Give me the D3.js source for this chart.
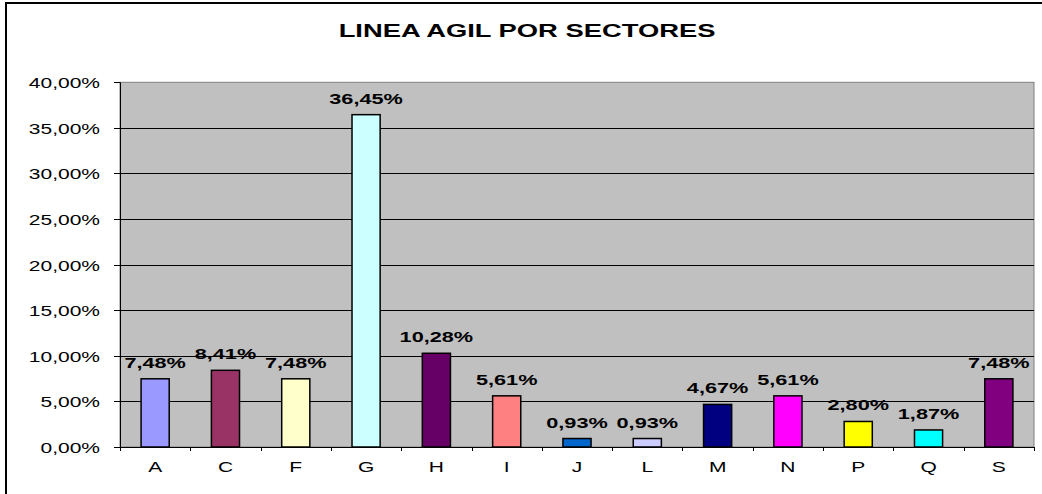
<!DOCTYPE html>
<html>
<head>
<meta charset="utf-8">
<script src="https://cdn.jsdelivr.net/npm/d3@7"></script>
<style>
  body { margin: 0; background: #fff; }
  text { font-family: "Liberation Sans", Arial, sans-serif; fill: #000; }
</style>
</head>
<body>
<div id="chart"></div>
<script>
// data
var sectors = ["A", "C", "F", "G", "H", "I", "J", "L", "M", "N", "P", "Q", "S"];
var shares = [7.48, 8.41, 7.48, 36.45, 10.28, 5.61, 0.93, 0.93, 4.67, 5.61, 2.80, 1.87, 7.48];
var barColors = ["#9999FF", "#993366", "#FFFFCC", "#CCFFFF", "#660066", "#FF8080", "#0066CC",
                 "#CCCCFF", "#000080", "#FF00FF", "#FFFF00", "#00FFFF", "#800080"];
var yTicks = [0, 5, 10, 15, 20, 25, 30, 35, 40];

var width = 1042, height = 494;
var plot = { left: 120, right: 1034, top: 82.3, bottom: 447 };
var stretch = 1.5; // the original picture is widened horizontally

var fmt = function(v) { return v.toFixed(2).replace(".", ",") + "%"; };

var svg = d3.select("#chart").append("svg")
  .attr("width", width)
  .attr("height", height);

// outer frame
svg.append("rect")
  .attr("x", 6).attr("y", 3)
  .attr("width", 1060).attr("height", 510)
  .attr("fill", "#fff")
  .attr("stroke", "#000")
  .attr("stroke-width", 2);

var x = d3.scaleBand().domain(sectors).range([plot.left, plot.right]).padding(0);
var y = d3.scaleLinear().domain([0, 40]).range([plot.bottom, plot.top]);

// gray plot area
svg.append("rect")
  .attr("x", plot.left).attr("y", plot.top)
  .attr("width", plot.right - plot.left)
  .attr("height", plot.bottom - plot.top)
  .attr("fill", "#C0C0C0")
  .attr("stroke", "#808080")
  .attr("stroke-width", 1);

// gridlines
svg.append("g").selectAll("line")
  .data(yTicks.filter(function(t) { return t > 0 && t < 40; }))
  .enter().append("line")
  .attr("x1", plot.left).attr("x2", plot.right)
  .attr("y1", function(d) { return Math.round(y(d)) + 0.5; })
  .attr("y2", function(d) { return Math.round(y(d)) + 0.5; })
  .attr("stroke", "#000")
  .attr("stroke-width", 1);

// helper: horizontally stretched text
function stretchedText(g, px, py, txt, opts) {
  return g.append("text")
    .attr("transform", "translate(" + px + "," + py + ") scale(" + (opts.sx || stretch) + ",1)")
    .attr("text-anchor", opts.anchor || "middle")
    .attr("font-size", opts.size)
    .attr("font-weight", opts.weight || "normal")
    .text(txt);
}

// y axis
var yAxis = svg.append("g");
yAxis.append("line")
  .attr("x1", plot.left + 0.5).attr("x2", plot.left + 0.5)
  .attr("y1", plot.top).attr("y2", plot.bottom)
  .attr("stroke", "#000");
yTicks.forEach(function(t) {
  var ty = Math.round(y(t)) + 0.5;
  yAxis.append("line")
    .attr("x1", plot.left - 6).attr("x2", plot.left)
    .attr("y1", ty).attr("y2", ty)
    .attr("stroke", "#000");
  stretchedText(yAxis, 100, ty + 5, fmt(t), { anchor: "end", size: 14 });
});

// x axis
var xAxis = svg.append("g");
xAxis.append("line")
  .attr("x1", plot.left).attr("x2", plot.right)
  .attr("y1", plot.bottom + 0.5).attr("y2", plot.bottom + 0.5)
  .attr("stroke", "#000");
sectors.concat(["_end"]).forEach(function(s, i) {
  var tx = Math.round(plot.left + i * x.step()) + 0.5;
  xAxis.append("line")
    .attr("x1", tx).attr("x2", tx)
    .attr("y1", plot.bottom).attr("y2", plot.bottom + 4)
    .attr("stroke", "#000");
});
sectors.forEach(function(s) {
  stretchedText(xAxis, x(s) + x.bandwidth() / 2, 472, s, { size: 14 });
});

// bars
var bw = x.bandwidth() * 0.4;
var bars = svg.append("g");
bars.selectAll("rect")
  .data(shares)
  .enter().append("rect")
  .attr("x", function(d, i) { return x(sectors[i]) + (x.bandwidth() - bw) / 2; })
  .attr("y", function(d) { return y(d); })
  .attr("width", bw)
  .attr("height", function(d) { return y(0) - y(d); })
  .attr("fill", function(d, i) { return barColors[i]; })
  .attr("stroke", "#000")
  .attr("stroke-width", 1.5);

// value labels
var labels = svg.append("g");
shares.forEach(function(v, i) {
  stretchedText(labels, x(sectors[i]) + x.bandwidth() / 2, y(v) - 11, fmt(v),
    { size: 14, weight: "bold", sx: 1.55 });
});

// title
stretchedText(svg, 527, 37, "LINEA AGIL POR SECTORES", { size: 18, weight: "bold", sx: 1.52 });
</script>
</body>
</html>
